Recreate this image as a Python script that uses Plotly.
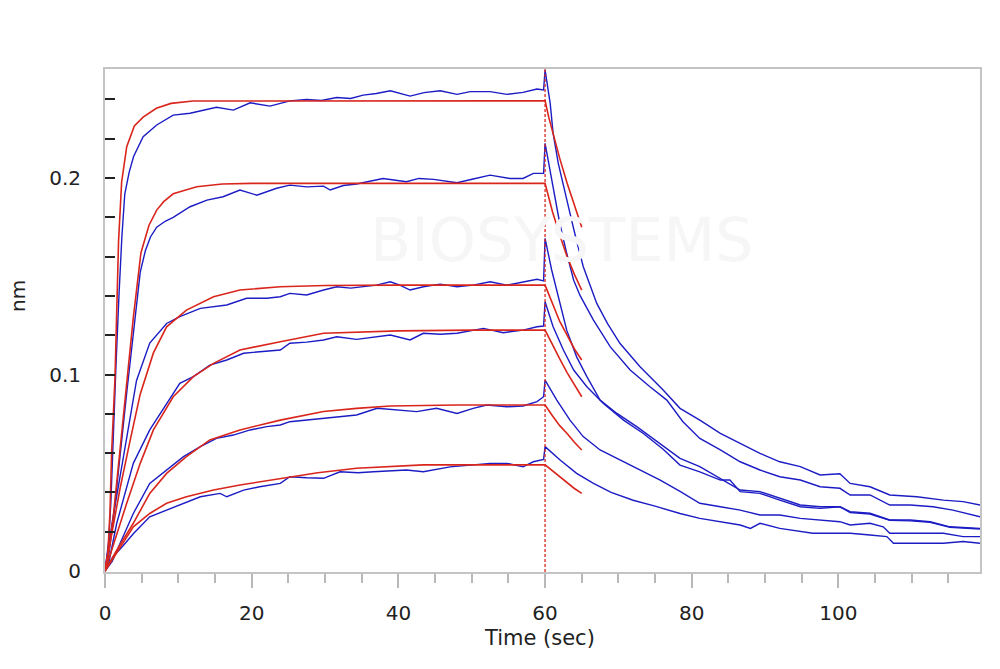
import plotly.graph_objects as go

# ---- sensorgram data (time in sec, response in nm) ----
# blue = measured curves, red = fitted curves
t_blue_1 = [0, 0.5, 0.8, 1.1, 1.5, 1.9, 2.3, 2.7, 3.3, 3.9, 5.2, 7.05, 9.3, 11.6, 13.5, 15.2, 17.5, 19.8,
            22.5, 25.2, 27.5, 29.5, 31.6, 33.5, 35.2, 37, 38.9, 41.6, 43.5, 45.7, 48, 49.8, 52.5, 54.8, 57,
            58.9, 59.8,
            60.0, 60.7, 61.1, 61.8, 62.7, 63.4, 64.1, 65.2, 67.05, 68.5, 70.2, 72.95, 76.1, 78.4, 81.1, 83.9,
            86.6, 89.3, 92.0, 94.8, 97.5, 100.2, 101.6, 104.3, 107.0, 110.7, 114.3, 117, 119.3]
nm_blue_1 = [0, 0.015, 0.035, 0.07, 0.105, 0.14, 0.17, 0.192, 0.203, 0.211, 0.221, 0.227, 0.232, 0.233, 0.2345,
             0.236, 0.2346, 0.2383, 0.2366, 0.2393, 0.240, 0.2395, 0.241, 0.2405, 0.2422, 0.2430, 0.2444, 0.2417,
             0.2435, 0.2444, 0.2426, 0.244, 0.244, 0.2426, 0.2436, 0.2453, 0.2448,
             0.255, 0.238, 0.2227, 0.2075, 0.194, 0.182, 0.171, 0.155, 0.1362, 0.126, 0.1159, 0.104, 0.0921,
             0.0828, 0.0768, 0.0701, 0.065, 0.0599, 0.0556, 0.0531, 0.0489, 0.0495, 0.0446, 0.0429, 0.0387,
             0.0378, 0.0361, 0.0353, 0.0336]

t_blue_2 = [0, 0.5, 1.1, 2.0, 3.0, 3.9, 4.8, 5.5, 6.2, 7.05, 8.2, 9.3, 11.6, 13.9, 16.1, 18.4, 20.7, 23.4,
            25.2, 27.5, 29.8, 30.7, 32.5, 34.3, 37.9, 41.1, 42.8, 44.8, 48, 50.2, 52.5, 55.2, 57, 58.4, 59.8,
            60.0, 60.7, 61.4, 62.0, 62.95, 63.9, 64.8, 66.6, 68.9, 71.6, 74.3, 76.6, 78.8, 81.1, 83.9, 86.6,
            89.3, 92.0, 94.8, 97.5, 100.2, 101.6, 104.3, 107, 109.8, 112.9, 115.6, 119.3]
nm_blue_2 = [0, 0.008, 0.025, 0.058, 0.092, 0.122, 0.152, 0.163, 0.170, 0.175, 0.178, 0.180, 0.1854, 0.1888,
             0.1905, 0.1939, 0.1913, 0.1948, 0.1964, 0.1955, 0.1959, 0.1939, 0.1962, 0.197, 0.1998, 0.1981,
             0.1998, 0.1993, 0.1976, 0.1995, 0.2015, 0.1998, 0.1998, 0.2024, 0.2024,
             0.2177, 0.204, 0.189, 0.177, 0.1617, 0.148, 0.14, 0.1277, 0.1141, 0.1023, 0.0938, 0.087, 0.076,
             0.0675, 0.0616, 0.0556, 0.0514, 0.048, 0.0463, 0.0429, 0.0421, 0.0387, 0.0387, 0.0336, 0.0336,
             0.0327, 0.031, 0.0276]

t_blue_3 = [0, 1.1, 2.05, 2.96, 4.3, 6.1, 8.4, 10.2, 13.0, 16.6, 19.3, 22.05, 23.9, 25.2, 27.5, 29.8, 31.6,
            33.5, 35.2, 37, 38.9, 40.2, 41.6, 43.4, 45.7, 48, 50.2, 52.5, 54.8, 57, 58.9, 59.8,
            60.0, 60.9, 62.05, 62.95, 64.3, 65.7, 67.5, 69.8, 72.5, 75.2, 78.4, 81.1, 83.9, 86.6, 89.3, 92.0,
            94.8, 97.5, 100.2, 101.6, 104.3, 107, 109.8, 112.5, 115.2, 119.3]
nm_blue_3 = [0, 0.0276, 0.048, 0.068, 0.097, 0.116, 0.126, 0.1295, 0.1337, 0.1354, 0.1388, 0.1388, 0.1396,
             0.1413, 0.1405, 0.143, 0.1447, 0.1440, 0.1447, 0.1455, 0.1472, 0.1455, 0.143, 0.1447, 0.146,
             0.1447, 0.1455, 0.1472, 0.1455, 0.1472, 0.1485, 0.1477,
             0.1693, 0.1532, 0.136, 0.1226, 0.109, 0.0989, 0.087, 0.0802, 0.0735, 0.066, 0.0573, 0.0531,
             0.0472, 0.0412, 0.0404, 0.037, 0.0336, 0.0327, 0.0327, 0.0302, 0.0294, 0.026, 0.026, 0.0251,
             0.0225, 0.0217]

t_blue_4 = [0, 0.5, 1.6, 3.86, 6.1, 8.4, 10.2, 12.05, 14.3, 16.6, 18.9, 21.1, 23.9, 25.2, 27.5, 29.8, 31.6,
            34.3, 36.5, 38.9, 41.6, 43.4, 45.7, 48, 51.6, 54.3, 57, 58.9, 59.8,
            60.0, 61.1, 62.5, 63.9, 65.7, 67.95, 70.7, 73.4, 76.1, 78.4, 81.1, 83.9, 85.2, 86.6, 89.3, 92.0,
            94.8, 97.5, 100.2, 101.6, 104.3, 107, 109.8, 112.5, 115.2, 119.3]
nm_blue_4 = [0, 0.004, 0.0243, 0.0548, 0.0718, 0.0853, 0.0955, 0.0989, 0.1048, 0.1074, 0.1108, 0.1116,
             0.1125, 0.1159, 0.1165, 0.1176, 0.1192, 0.1179, 0.119, 0.1201, 0.1176, 0.121, 0.1205, 0.121,
             0.1235, 0.1213, 0.1226, 0.1243, 0.1247,
             0.137, 0.1243, 0.1125, 0.1023, 0.0938, 0.0853, 0.0768, 0.070, 0.062, 0.0539, 0.0505, 0.0463,
             0.0463, 0.0404, 0.0395, 0.0361, 0.0327, 0.0319, 0.0327, 0.0298, 0.029, 0.0258, 0.0255, 0.0248,
             0.0222, 0.0214]

t_blue_5 = [0, 1.0, 2.05, 3.86, 6.1, 8.4, 10.7, 13.0, 15.2, 17.5, 19.8, 22.05, 23.9, 25.2, 27.5, 29.8, 31.6,
            34.3, 37.1, 39.8, 42.5, 45.2, 48, 50.2, 52.05, 54.8, 57, 58.9, 59.8,
            60.0, 61.6, 63.4, 65.2, 67.5, 70.2, 72.95, 75.7, 78.4, 81.1, 83.9, 86.6, 89.3, 92.0, 94.8, 97.5,
            100.2, 101.6, 104.3, 106.1, 107, 110.7, 114.3, 117, 119.3]
nm_blue_5 = [0, 0.005, 0.014, 0.0293, 0.0446, 0.0514, 0.0582, 0.0633, 0.0675, 0.0692, 0.0718, 0.0735,
             0.0743, 0.076, 0.0768, 0.0777, 0.0785, 0.0794, 0.0828, 0.0819, 0.0811, 0.0828, 0.0802, 0.0828,
             0.0845, 0.0836, 0.084, 0.0862, 0.0887,
             0.0972, 0.087, 0.0768, 0.0684, 0.0616, 0.0565, 0.0514, 0.0463, 0.0405, 0.0345, 0.0327, 0.031,
             0.0285, 0.0285, 0.0268, 0.026, 0.0251, 0.0234, 0.0243, 0.0225, 0.0192, 0.0192, 0.0192, 0.0175,
             0.0175]

t_blue_6 = [0, 1.1, 2.5, 3.86, 6.1, 8.4, 10.7, 13.0, 15.7, 16.6, 18.9, 21.1, 23.9, 25.2, 27.5, 29.8, 32.05,
            34.5, 36.6, 41.1, 43.4, 47.05, 50.2, 52.5, 54.8, 57, 58.4, 59.8,
            60.0, 62.05, 64.3, 66.6, 69, 72, 75, 78.4, 81.1, 83.9, 86.6, 88, 89.3, 92.0, 94.8, 96.5, 100.2,
            101.6, 104.3, 106.6, 107.5, 110.7, 114.3, 117, 119.3]
nm_blue_6 = [0, 0.0073, 0.013, 0.019, 0.0276, 0.031, 0.0345, 0.0378, 0.0395, 0.0378, 0.0412, 0.0429, 0.0446,
             0.048, 0.0475, 0.0472, 0.0505, 0.0500, 0.0505, 0.0514, 0.0505, 0.053, 0.054, 0.0548, 0.0548,
             0.053, 0.0556, 0.0568,
             0.0633, 0.0565, 0.0497, 0.0446, 0.040, 0.036, 0.033, 0.0293, 0.0268, 0.0251, 0.0234, 0.0217,
             0.0243, 0.0217, 0.02, 0.0192, 0.0192, 0.0192, 0.0183, 0.0175, 0.0141, 0.0141, 0.0141, 0.015,
             0.0141]

t_fit_1 = [0, 0.4, 0.68, 0.9, 1.36, 1.6, 1.85, 2.27, 2.96, 4.0, 5.2, 7.0, 9.0, 12, 60,
           60.5, 61, 62, 63, 64, 65]
nm_fit_1 = [0, 0.01, 0.03, 0.06, 0.098, 0.13, 0.168, 0.198, 0.216, 0.2265, 0.231, 0.2355, 0.238, 0.2392,
            0.2393, 0.231, 0.2235, 0.210, 0.1975, 0.186, 0.175]

t_fit_2 = [0, 0.5, 1.14, 2.05, 2.96, 3.86, 4.9, 6.0, 7.05, 8.0, 9.3, 12.5, 16, 20, 60,
           61, 62, 63, 64, 65]
nm_fit_2 = [0, 0.01, 0.028, 0.062, 0.097, 0.129, 0.162, 0.176, 0.1837, 0.188, 0.192, 0.1956, 0.197, 0.1973,
            0.1973, 0.183, 0.171, 0.160, 0.151, 0.143]

t_fit_3 = [0, 1.1, 2.05, 3.4, 4.8, 6.6, 8.4, 11.1, 14.8, 18.4, 23.9, 30, 40, 60,
           61, 62, 63, 64, 65]
nm_fit_3 = [0, 0.022, 0.042, 0.066, 0.090, 0.111, 0.1243, 0.1328, 0.1396, 0.143, 0.1447, 0.1453, 0.1455,
            0.1455, 0.136, 0.127, 0.120, 0.113, 0.1074]

t_fit_4 = [0, 1.0, 2.96, 4.8, 6.6, 9.3, 12.05, 14.8, 18.4, 23.9, 29.8, 40, 50, 60,
           61, 62, 63, 64, 65]
nm_fit_4 = [0, 0.012, 0.0345, 0.0548, 0.0718, 0.0887, 0.0989, 0.1057, 0.1125, 0.1167, 0.121, 0.1222, 0.1226,
            0.1226, 0.115, 0.108, 0.101, 0.095, 0.0887]

t_fit_5 = [0, 1.5, 3.86, 6.1, 8.4, 11.1, 14.3, 18.4, 23.9, 29.8, 34.3, 38.9, 48, 60,
           61, 62, 63, 64, 65]
nm_fit_5 = [0, 0.010, 0.0243, 0.0395, 0.0497, 0.0582, 0.0667, 0.0718, 0.0768, 0.0812, 0.0828, 0.084, 0.0845,
            0.0845, 0.079, 0.074, 0.070, 0.0655, 0.0616]

t_fit_6 = [0, 1.5, 3.86, 6.1, 8.4, 11.1, 14.8, 18.4, 23.9, 29, 34.3, 43.4, 60,
           61, 62, 63, 64, 65]
nm_fit_6 = [0, 0.009, 0.0225, 0.0293, 0.0345, 0.0378, 0.0412, 0.0438, 0.0472, 0.0500, 0.0523, 0.054, 0.054,
            0.051, 0.048, 0.045, 0.042, 0.0395]

dissociation_start = 60  # sec, dashed marker

x_tick_vals = [0, 20, 40, 60, 80, 100]
x_tick_text = ["0", "20", "40", "60", "80", "100"]
y_tick_vals = [0, 0.02, 0.04, 0.06, 0.08, 0.1, 0.12, 0.14, 0.16, 0.18, 0.2, 0.22, 0.24]
y_tick_text = ["0", "", "", "", "", "0.1", "", "", "", "", "0.2", "", ""]

blue_curves = [(t_blue_1, nm_blue_1), (t_blue_2, nm_blue_2), (t_blue_3, nm_blue_3),
               (t_blue_4, nm_blue_4), (t_blue_5, nm_blue_5), (t_blue_6, nm_blue_6)]
fit_curves = [(t_fit_1, nm_fit_1), (t_fit_2, nm_fit_2), (t_fit_3, nm_fit_3),
              (t_fit_4, nm_fit_4), (t_fit_5, nm_fit_5), (t_fit_6, nm_fit_6)]

BLUE = "#1c1cc4"
RED = "#d9261c"
FONT = "DejaVu Sans"

fig = go.Figure()

# 측정 곡선
for t, v in blue_curves:
    fig.add_trace(go.Scatter(x=t, y=v, mode="lines", line=dict(color=BLUE, width=1.4),
                             hoverinfo="skip"))
# 피팅 곡선
for t, v in fit_curves:
    fig.add_trace(go.Scatter(x=t, y=v, mode="lines", line=dict(color=RED, width=1.6),
                             hoverinfo="skip"))

# dissociation marker
fig.add_shape(type="line", x0=dissociation_start, x1=dissociation_start, y0=0, y1=1,
              xref="x", yref="paper", line=dict(color=RED, width=1.3, dash="3px,2px"))

# faint watermark
fig.add_annotation(text="BIOSYSTEMS", xref="paper", yref="paper", x=0.522, y=0.66,
                   showarrow=False, font=dict(family=FONT, size=60, color="#f6f6f6"))

# axis titles as annotations for exact placement
fig.add_annotation(text="Time (sec)", xref="paper", yref="paper", x=0.497, y=-0.131,
                   xanchor="center", yanchor="middle", showarrow=False,
                   font=dict(family=FONT, size=21, color="#222222"))
fig.add_annotation(text="nm", xref="paper", yref="paper", x=-0.0994, y=0.549, textangle=-90,
                   xanchor="center", yanchor="middle", showarrow=False,
                   font=dict(family=FONT, size=20, color="#222222"))

fig.update_layout(
    width=1000, height=669,
    margin=dict(l=105, r=20, t=69, b=97),
    paper_bgcolor="white", plot_bgcolor="white",
    showlegend=False,
    font=dict(family=FONT, size=20, color="#222222"),
)
fig.update_xaxes(
    range=[0, 119.3], showgrid=False, zeroline=False, automargin=False,
    showline=True, mirror=True, linecolor="#c4c4c4", linewidth=2,
    tickmode="array", tickvals=x_tick_vals, ticktext=x_tick_text,
    ticks="outside", ticklen=14, tickwidth=1.5, tickcolor="#b8b8b8", ticklabelstandoff=8,
    minor=dict(dtick=5, ticks="outside", ticklen=9, tickwidth=1.5, tickcolor="#b8b8b8", showgrid=False),
)
fig.update_yaxes(
    range=[-0.0005, 0.2555], showgrid=False, zeroline=False, automargin=False,
    showline=True, mirror=True, linecolor="#c4c4c4", linewidth=2,
    tickmode="array", tickvals=y_tick_vals, ticktext=y_tick_text,
    ticks="inside", ticklen=10, tickwidth=2, tickcolor="#222222", ticklabelstandoff=18,
)

# page body has a default 8px margin; drop it so the figure sits at the window corner
fig.write_html("out.html", config={"displayModeBar": False},
               post_script="document.body.style.margin='0';")
